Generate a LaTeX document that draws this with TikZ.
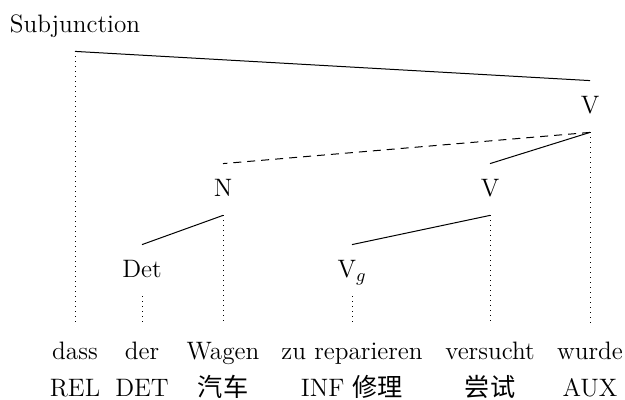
\documentclass[tikz,border=0pt]{standalone}
\usepackage{fontspec}
\newfontfamily\cjk{Noto Sans CJK SC}
\begin{document}
\begin{tikzpicture}[x=0.5pt,y=-0.5pt,
  font=\fontsize{12.6}{14}\selectfont,
  cat/.style={inner sep=0pt, text height=16.5pt, text depth=9pt, anchor=base},
  word/.style={inner sep=0pt, text height=17pt, text depth=4pt, anchor=base},
  gloss/.style={inner sep=0pt, anchor=base},
  edge/.style={line width=0.5pt},
  dep/.style={line width=0.5pt, dash pattern=on 4pt off 3pt},
  proj/.style={line width=0.5pt, dotted}]
\useasboundingbox[fill=white] (0,0) rectangle (625,400);
% category nodes
\node[cat] (subj) at (75,33) {Subjunction};
\node[cat] (vtop) at (590,114) {V};
\node[cat] (n) at (223,197) {N};
\node[cat] (vmid) at (490,197) {V};
\node[cat] (det) at (142,278) {Det};
\node[cat] (vg) at (352,278) {$\mathrm{V}_g$};
% words
\node[word] (w1) at (75,359) {dass};
\node[word] (w2) at (142,359) {der};
\node[word] (w3) at (223,359) {Wagen};
\node[word] (w4) at (352,359) {zu reparieren};
\node[word] (w5) at (490,359) {versucht};
\node[word] (w6) at (590,359) {wurde};
% glosses
\node[gloss] (g1) at (75,396) {REL};
\node[gloss] (g2) at (142,396) {DET};
\node[gloss] (g3) at (223,396) {\cjk 汽车};
\node[gloss] (g4) at (352,396) {INF {\cjk 修理}};
\node[gloss] (g5) at (490,396) {\cjk 尝试};
\node[gloss] (g6) at (590,396) {AUX};
% tree edges
\draw[edge] (subj.south) -- (vtop.north);
\draw[dep] (vtop.south) -- (n.north);
\draw[edge] (vtop.south) -- (vmid.north);
\draw[edge] (n.south) -- (det.north);
\draw[edge] (vmid.south) -- (vg.north);
% projection lines
\draw[proj] (subj.south) -- (w1.north);
\draw[proj] (det.south) -- (w2.north);
\draw[proj] (n.south) -- (w3.north);
\draw[proj] (vg.south) -- (w4.north);
\draw[proj] (vmid.south) -- (w5.north);
\draw[proj] (vtop.south) -- (w6.north);
\end{tikzpicture}
\end{document}
